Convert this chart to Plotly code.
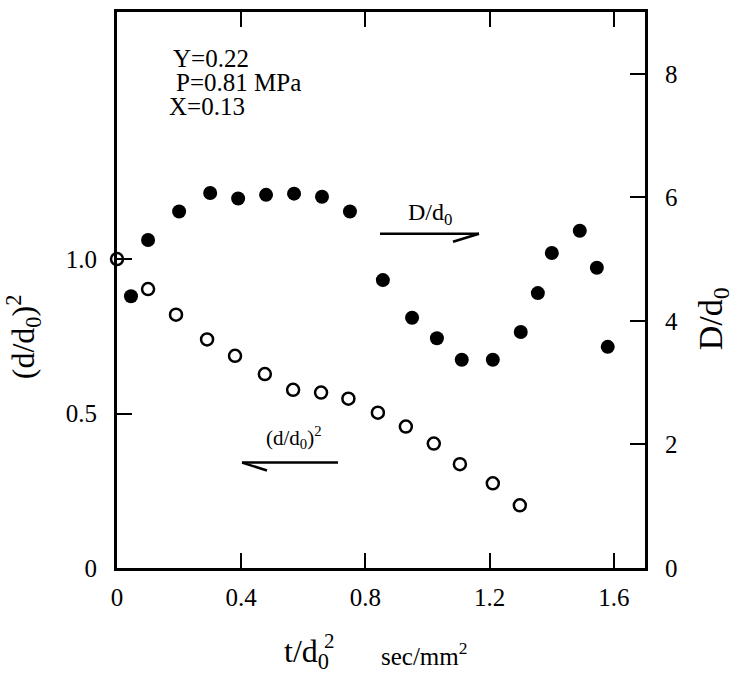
import plotly.graph_objects as go

# (d/d0)^2 – open circles, left axis
t_open = [0.0, 0.10, 0.19, 0.29, 0.38, 0.476, 0.567, 0.657, 0.745, 0.84, 0.93, 1.02, 1.104, 1.21, 1.297]
dd_open = [1.0, 0.903, 0.82, 0.74, 0.687, 0.628, 0.577, 0.568, 0.548, 0.503, 0.458, 0.403, 0.336, 0.274, 0.203]

# D/d0 – filled circles, right axis
t_fill = [0.045, 0.10, 0.20, 0.30, 0.39, 0.48, 0.57, 0.66, 0.75, 0.856, 0.95, 1.03, 1.11, 1.21, 1.30, 1.355, 1.40, 1.49, 1.545, 1.58]
D_fill = [4.40, 5.31, 5.77, 6.07, 5.98, 6.04, 6.06, 6.01, 5.77, 4.66, 4.05, 3.72, 3.37, 3.37, 3.82, 4.45, 5.10, 5.46, 4.86, 3.58]

x_ticks = [0, 0.4, 0.8, 1.2, 1.6]
x_ticktext = ["0", "0.4", "0.8", "1.2", "1.6"]
yl_ticks = [0, 0.5, 1.0]
yl_ticktext = ["0", "0.5", "1.0"]
yr_ticks = [0, 2, 4, 6, 8]
yr_ticktext = ["0", "2", "4", "6", "8"]

FONT = "Liberation Serif"

fig = go.Figure()
fig.add_trace(go.Scatter(
    x=t_fill, y=D_fill, mode="markers", yaxis="y2",
    marker=dict(symbol="circle", size=14, color="black", line=dict(width=0)),
    cliponaxis=False, showlegend=False))
fig.add_trace(go.Scatter(
    x=t_open, y=dd_open, mode="markers", yaxis="y",
    marker=dict(symbol="circle", size=12, color="white", line=dict(width=2.5, color="black")),
    cliponaxis=False, showlegend=False))

axis_common = dict(showgrid=False, zeroline=False, showline=True, linecolor="black", linewidth=3,
                   ticks="inside", ticklen=15, tickwidth=2, tickcolor="black",
                   tickfont=dict(family=FONT, size=25, color="black"))

fig.update_layout(
    width=738, height=677,
    margin=dict(l=117, r=93, t=9, b=109),
    plot_bgcolor="white", paper_bgcolor="white",
    xaxis=dict(range=[0, 1.7], tickvals=x_ticks, ticktext=x_ticktext, mirror="ticks",
               ticklabelstandoff=5, **axis_common),
    yaxis=dict(range=[0, 1.8], tickvals=yl_ticks, ticktext=yl_ticktext,
               ticklabelstandoff=12, **axis_common),
    yaxis2=dict(range=[0, 9], tickvals=yr_ticks, ticktext=yr_ticktext, overlaying="y", side="right",
                ticklabelstandoff=12, **axis_common),
)


def px_x(p):
    return (p - 117) / 528


def px_y(p):
    return (568 - p) / 559


def ann(text, x, y, size, xanchor="center", angle=0):
    return dict(text=text, x=px_x(x), y=px_y(y), xref="paper", yref="paper",
                xanchor=xanchor, yanchor="middle", textangle=angle, showarrow=False,
                font=dict(family=FONT, size=size, color="black"))


annotations = [
    ann("Y=0.22", 171, 56, 25, "left"),
    ann("P=0.81 MPa", 174, 80, 25, "left"),
    ann("X=0.13", 167, 104, 25, "left"),
    ann("D/d<sub>0</sub>", 430, 212, 24),
    ann("(d/d<sub>0</sub>)<sup>2</sup>", 294, 437, 21),
    ann("(d/d<sub>0</sub>)<sup>2</sup>", 23, 336, 32, angle=-90),
    ann("D/d<sub>0</sub>", 713, 318, 34, angle=-90),
    ann("t/d<sub>0</sub>", 282, 654, 32, "left"),
    ann("2", 322, 641, 21, "left"),
    ann("sec/mm<sup>2</sup>", 379, 654, 25, "left"),
]
fig.update_layout(annotations=annotations)

line = dict(color="black", width=2.5)
shapes = [
    # D/d0 arrow pointing right
    dict(type="line", xref="paper", yref="paper", x0=px_x(380), y0=px_y(232), x1=px_x(479), y1=px_y(232), line=line),
    dict(type="line", xref="paper", yref="paper", x0=px_x(479), y0=px_y(232), x1=px_x(453), y1=px_y(240), line=line),
    # (d/d0)^2 arrow pointing left
    dict(type="line", xref="paper", yref="paper", x0=px_x(242), y0=px_y(462), x1=px_x(338), y1=px_y(462), line=line),
    dict(type="line", xref="paper", yref="paper", x0=px_x(242), y0=px_y(462), x1=px_x(267), y1=px_y(470), line=line),
]
fig.update_layout(shapes=shapes)

fig.write_html("out.html")
